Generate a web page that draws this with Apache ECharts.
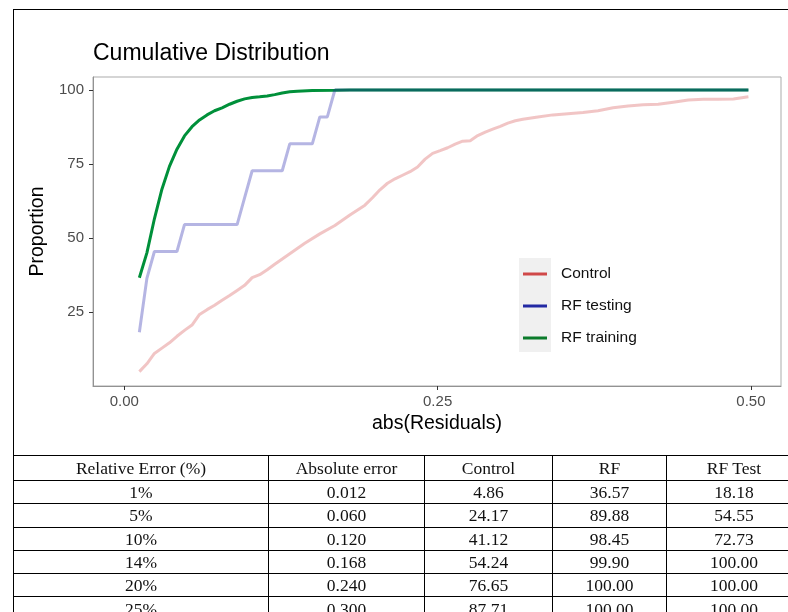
<!DOCTYPE html>
<html>
<head>
<meta charset="utf-8">
<script src="https://cdn.jsdelivr.net/npm/echarts@6/dist/echarts.min.js"></script>
<style>
  html, body { margin: 0; padding: 0; background: #fff; overflow: hidden; width: 788px; height: 612px; }
  #chart { position: absolute; left: 0; top: 0; width: 788px; height: 612px; }
  #frame { position: absolute; left: 13px; top: 9px; width: 800px; height: 446px;
           border-left: 1px solid #000; border-top: 1px solid #000; pointer-events: none; }
  #wrap { position: absolute; left: 13px; top: 455px; width: 775px; height: 157px; overflow: hidden; }
  #tbl { border-collapse: collapse; table-layout: fixed; width: 788px;
         font-family: "Liberation Serif", "DejaVu Serif", serif; font-size: 17.5px; color: #111; }
  #tbl td { border: 1px solid #000; text-align: center; padding: 0; line-height: 18px; overflow: hidden; white-space: nowrap; }
  #tbl tr.h td { height: 24px; }
  #tbl tr.r td { height: 22.3px; }
</style>
</head>
<body>
<div id="chart"></div>
<div id="frame"></div>
<div id="wrap"><table id="tbl"></table></div>
<script>
// ---------- chart data ----------
const seriesNames = ['Control', 'RF testing', 'RF training'];

const controlX = [0.012, 0.018, 0.024, 0.030, 0.036, 0.042, 0.048, 0.054, 0.060, 0.066, 0.072, 0.078,
  0.084, 0.090, 0.096, 0.102, 0.108, 0.114, 0.120, 0.132, 0.144, 0.156, 0.168, 0.180, 0.192, 0.198,
  0.204, 0.210, 0.216, 0.222, 0.228, 0.234, 0.240, 0.246, 0.252, 0.258, 0.264, 0.270, 0.276, 0.282,
  0.288, 0.294, 0.300, 0.306, 0.312, 0.318, 0.330, 0.342, 0.354, 0.366, 0.378, 0.390, 0.402, 0.414,
  0.426, 0.438, 0.450, 0.462, 0.474, 0.486, 0.498];
const controlY = [4.86, 7.5, 11.0, 12.8, 14.6, 16.8, 18.8, 20.6, 24.17, 25.8, 27.3, 29.0,
  30.6, 32.3, 34.0, 36.6, 37.6, 39.3, 41.12, 44.7, 48.2, 51.4, 54.24, 57.8, 61.1, 63.6,
  66.3, 68.5, 70.0, 71.2, 72.4, 74.0, 76.65, 78.6, 79.5, 80.5, 81.7, 82.7, 82.9, 84.6,
  85.8, 86.8, 87.71, 88.8, 89.6, 90.1, 90.9, 91.6, 92.0, 92.4, 93.0, 94.0, 94.6, 95.0,
  95.2, 95.9, 96.6, 96.9, 96.9, 97.0, 97.7];

const testX = [0.012, 0.018, 0.024, 0.042, 0.048, 0.090, 0.096, 0.102, 0.126, 0.132, 0.150, 0.156,
  0.162, 0.168, 0.498];
const testY = [18.18, 36.36, 45.45, 45.45, 54.55, 54.55, 63.64, 72.73, 72.73, 81.82, 81.82, 90.91,
  90.91, 100, 100];

const trainX = [0.012, 0.018, 0.024, 0.030, 0.036, 0.042, 0.048, 0.054, 0.060, 0.066, 0.072, 0.078,
  0.084, 0.090, 0.096, 0.102, 0.108, 0.114, 0.120, 0.126, 0.132, 0.138, 0.150, 0.168, 0.180, 0.498];
const trainY = [36.57, 45.0, 56.5, 66.5, 74.2, 80.0, 84.5, 87.6, 89.88, 91.6, 93.0, 94.0,
  95.2, 96.2, 97.0, 97.5, 97.7, 98.0, 98.45, 99.0, 99.4, 99.6, 99.8, 99.9, 100, 100];

const xTicks = [0, 0.25, 0.5];
const yTicks = [25, 50, 75, 100];

// ---------- table data ----------
const tableHeaders = ['Relative Error (%)', 'Absolute error', 'Control', 'RF', 'RF Test'];
const relErr = ['1%', '5%', '10%', '14%', '20%', '25%'];
const absErr = ['0.012', '0.060', '0.120', '0.168', '0.240', '0.300'];
const ctrlPct = ['4.86', '24.17', '41.12', '54.24', '76.65', '87.71'];
const rfPct = ['36.57', '89.88', '98.45', '99.90', '100.00', '100.00'];
const rfTestPct = ['18.18', '54.55', '72.73', '100.00', '100.00', '100.00'];

// ---------- build table ----------
const colW = [255, 156, 128, 114, 135];
const tbl = document.getElementById('tbl');
let html = '<colgroup>' + colW.map(w => '<col style="width:' + w + 'px">').join('') + '</colgroup>';
html += '<tr class="h">' + tableHeaders.map(h => '<td>' + h + '</td>').join('') + '</tr>';
for (let i = 0; i < relErr.length; i++) {
  html += '<tr class="r"><td>' + relErr[i] + '</td><td>' + absErr[i] + '</td><td>' + ctrlPct[i] +
          '</td><td>' + rfPct[i] + '</td><td>' + rfTestPct[i] + '</td></tr>';
}
tbl.innerHTML = html;

// ---------- chart ----------
const zip = (xs, ys) => xs.map((x, i) => [x, ys[i]]);
const lineColors = ['rgba(208,64,64,0.3)', 'rgba(30,30,170,0.33)', '#00903a'];
const keyColors = ['#d04848', '#2229a3', '#0b7b2b'];
const font = '"Liberation Sans", Arial, sans-serif';

const chart = echarts.init(document.getElementById('chart'), null, { renderer: 'canvas' });
chart.setOption({
  animation: false,
  backgroundColor: 'transparent',
  title: {
    text: 'Cumulative Distribution', left: 88, top: 37,
    textStyle: { fontFamily: font, fontSize: 23, fontWeight: 'normal', color: '#000' }
  },
  grid: { left: 93, top: 77, width: 688, height: 309, show: true, borderColor: '#ababab', borderWidth: 1, backgroundColor: '#fff' },
  graphic: [{ type: 'rect', z: 1, shape: { x: 519, y: 258, width: 32, height: 94 }, style: { fill: '#f0f0f0' } }],
  legend: {
    orient: 'vertical', left: 523, top: 266, padding: 0, itemWidth: 24, itemHeight: 3, itemGap: 16,
    icon: 'rect', selectedMode: false,
    textStyle: { fontFamily: font, fontSize: 15.5, color: '#111', lineHeight: 16, padding: [0, 0, 0, 9] },
    data: seriesNames.map((n, i) => ({ name: n, icon: 'rect', itemStyle: { color: keyColors[i], opacity: 1, borderWidth: 0 } }))
  },
  xAxis: {
    type: 'value', min: -0.025, max: 0.524,
    name: 'abs(Residuals)', nameLocation: 'middle', nameGap: 28,
    nameTextStyle: { fontFamily: font, fontSize: 19.5, color: '#000' },
    axisLine: { show: true, onZero: false, lineStyle: { color: '#929292', width: 1 } },
    axisTick: { show: true, length: 4, customValues: xTicks, lineStyle: { color: '#333' } },
    axisLabel: { customValues: xTicks, margin: 8, fontFamily: font, fontSize: 15, color: '#4d4d4d',
                 formatter: v => v.toFixed(2) },
    splitLine: { show: false }
  },
  yAxis: {
    type: 'value', min: 0, max: 104.4,
    name: 'Proportion', nameLocation: 'middle', nameGap: 41, nameRotate: 90,
    nameTextStyle: { fontFamily: font, fontSize: 19.5, color: '#000' },
    axisLine: { show: true, onZero: false, lineStyle: { color: '#929292', width: 1 } },
    axisTick: { show: true, length: 4, customValues: yTicks, lineStyle: { color: '#333' } },
    axisLabel: { customValues: yTicks, margin: 9, fontFamily: font, fontSize: 15, color: '#4d4d4d' },
    splitLine: { show: false }
  },
  series: [
    { name: 'RF training', type: 'line', data: zip(trainX, trainY), showSymbol: false, z: 2,
      lineStyle: { color: lineColors[2], width: 3 }, itemStyle: { color: keyColors[2] }, emphasis: { disabled: true } },
    { name: 'RF testing', type: 'line', data: zip(testX, testY), showSymbol: false, z: 3,
      lineStyle: { color: lineColors[1], width: 3 }, itemStyle: { color: keyColors[1] }, emphasis: { disabled: true } },
    { name: 'Control', type: 'line', data: zip(controlX, controlY), showSymbol: false, z: 4,
      lineStyle: { color: lineColors[0], width: 3 }, itemStyle: { color: keyColors[0] }, emphasis: { disabled: true } }
  ]
});
</script>
</body>
</html>
